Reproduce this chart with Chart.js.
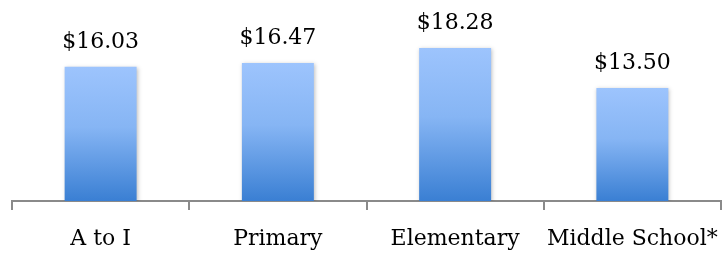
<!DOCTYPE html>
<html>
<head>
<meta charset="utf-8">
<script src="https://cdn.jsdelivr.net/npm/chart.js@4/dist/chart.umd.min.js"></script>
<style>
  html, body { margin: 0; padding: 0; background: #fff; }
  #wrap { width: 722px; height: 254px; }
</style>
</head>
<body>
<div id="wrap"><canvas id="payChart" width="722" height="254"></canvas></div>
<script>
// Data
const categories = ['A to I', 'Primary', 'Elementary', 'Middle School*'];
const payValues = [16.03, 16.47, 18.28, 13.50];
const valueLabels = ['$16.03', '$16.47', '$18.28', '$13.50'];

const labelFont = '22px "DejaVu Serif"';

// gradient per bar, light on top, darker at the base
function barGradient(context) {
  const chart = context.chart;
  if (!chart.chartArea || context.parsed === undefined) return '#6aa3ec';
  const yScale = chart.scales.y;
  const top = yScale.getPixelForValue(context.parsed.y);
  const bottom = yScale.getPixelForValue(0);
  const g = chart.ctx.createLinearGradient(0, top, 0, bottom);
  g.addColorStop(0, '#9dc4fd');
  g.addColorStop(0.45, '#86b5f4');
  g.addColorStop(1, '#3a7fd3');
  return g;
}

// value labels above the bars
const valueLabelPlugin = {
  id: 'valueLabels',
  afterDatasetsDraw(chart) {
    const ctx = chart.ctx;
    const meta = chart.getDatasetMeta(0);
    ctx.save();
    ctx.font = labelFont;
    ctx.fillStyle = '#000';
    ctx.textAlign = 'center';
    ctx.textBaseline = 'alphabetic';
    meta.data.forEach((bar, i) => {
      ctx.fillText(valueLabels[i], bar.x, bar.y - 19);
    });
    ctx.restore();
  }
};

// soft shadow behind bars
const shadowPlugin = {
  id: 'barShadow',
  beforeDatasetsDraw(chart) {
    chart.ctx.save();
    chart.ctx.shadowColor = 'rgba(0,0,0,0.25)';
    chart.ctx.shadowBlur = 4;
    chart.ctx.shadowOffsetX = 1;
    chart.ctx.shadowOffsetY = 1;
  },
  afterDatasetsDraw(chart) {
    chart.ctx.restore();
  }
};

new Chart(document.getElementById('payChart').getContext('2d'), {
  type: 'bar',
  data: {
    labels: categories,
    datasets: [{
      data: payValues,
      backgroundColor: barGradient,
      borderWidth: 0,
      categoryPercentage: 1,
      barPercentage: 0.406
    }]
  },
  options: {
    responsive: false,
    animation: false,
    devicePixelRatio: 1,
    layout: { padding: { left: 12, right: 1, top: 0, bottom: 0 } },
    plugins: {
      legend: { display: false },
      tooltip: { enabled: false }
    },
    scales: {
      x: {
        offset: true,
        grid: {
          offset: true,
          drawOnChartArea: false,
          drawTicks: true,
          tickLength: 9,
          color: '#8a8a8a',
          lineWidth: 2
        },
        border: { display: true, color: '#8a8a8a', width: 2 },
        ticks: {
          color: '#000',
          font: { family: 'DejaVu Serif', size: 22 },
          padding: 16,
          maxRotation: 0,
          autoSkip: false
        },
        afterFit(scale) {
          scale.height = 53;
          scale.paddingLeft = 0;
          scale.paddingRight = 0;
        }
      },
      y: {
        display: false,
        min: 0,
        max: 24
      }
    }
  },
  plugins: [shadowPlugin, valueLabelPlugin]
});
</script>
</body>
</html>
